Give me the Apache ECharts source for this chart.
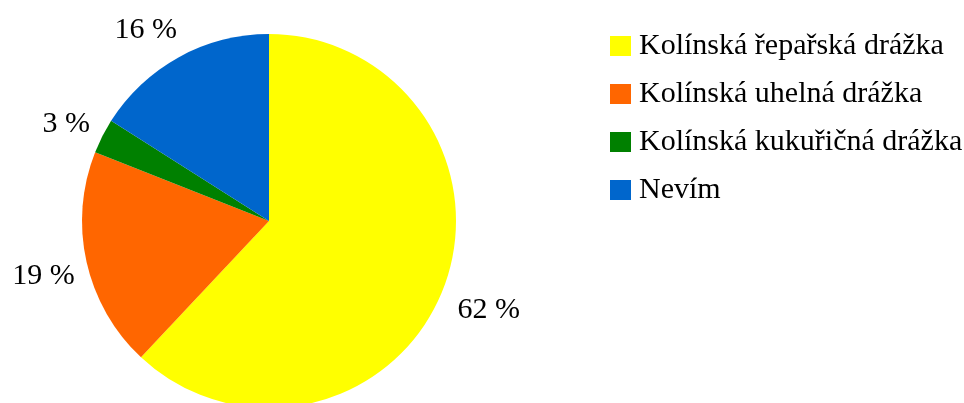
<!DOCTYPE html>
<html>
<head>
<meta charset="utf-8">
<script src="https://cdn.jsdelivr.net/npm/echarts@6/dist/echarts.min.js"></script>
<style>
html,body{margin:0;padding:0;background:#fff;}
#chart{width:964px;height:403px;}
</style>
</head>
<body>
<div id="chart"></div>
<script>
var categories = ['Kolínská řepařská drážka', 'Kolínská uhelná drážka', 'Kolínská kukuřičná drážka', 'Nevím'];
var values = [62, 19, 3, 16];
var colors = ['#ffff00', '#ff6600', '#008000', '#0066cc'];
// small label nudges (pixels) to mimic the original label placement
var labelNudges = [[5, 4], [0, 5], [3, 8], [-12, 12]];

var FONT = '"Liberation Serif", "Times New Roman", serif';

var pieData = categories.map(function (c, i) {
  return { name: c, value: values[i], itemStyle: { color: colors[i] } };
});
var labelData = categories.map(function (c, i) {
  return { name: c, value: values[i], label: { offset: labelNudges[i] } };
});

var chart = echarts.init(document.getElementById('chart'), null, { renderer: 'canvas' });
chart.setOption({
  animation: false,
  backgroundColor: '#ffffff',
  legend: {
    orient: 'vertical',
    left: 610,
    top: 31,
    padding: 0,
    itemWidth: 21,
    itemHeight: 20,
    itemGap: 18,
    icon: 'rect',
    data: categories,
    textStyle: { fontFamily: FONT, fontSize: 30, color: '#000', lineHeight: 30, padding: [0, 0, 0, 3] }
  },
  series: [
    {
      type: 'pie',
      center: [269, 221],
      radius: [0, 187],
      startAngle: 90,
      clockwise: true,
      silent: true,
      label: { show: false },
      labelLine: { show: false },
      itemStyle: { borderWidth: 0 },
      emphasis: { disabled: true },
      data: pieData
    },
    {
      type: 'pie',
      center: [269, 221],
      radius: [216, 240],
      startAngle: 90,
      clockwise: true,
      silent: true,
      itemStyle: { color: 'rgba(0,0,0,0)', borderWidth: 0 },
      emphasis: { disabled: true },
      label: {
        show: true,
        position: 'inside',
        formatter: '{c} %',
        fontFamily: FONT,
        fontSize: 30,
        color: '#000'
      },
      labelLine: { show: false },
      data: labelData
    }
  ]
});
</script>
</body>
</html>
